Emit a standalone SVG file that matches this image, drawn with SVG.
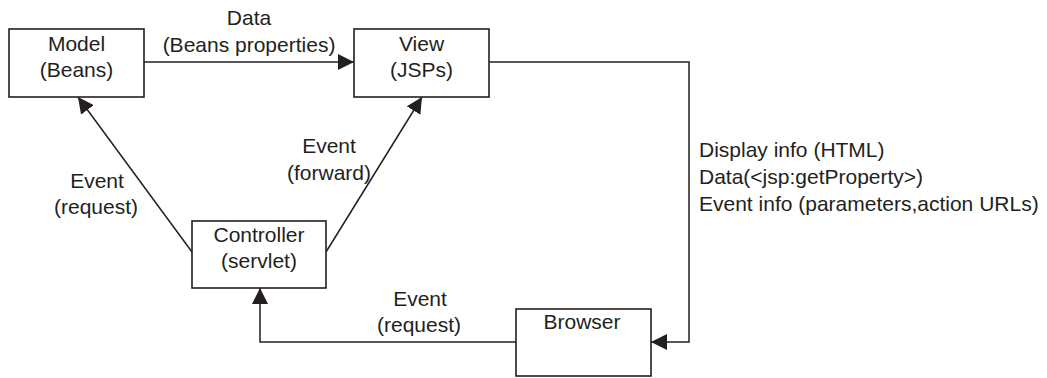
<svg xmlns="http://www.w3.org/2000/svg" width="1047" height="378" viewBox="0 0 1047 378">
  <style>
    .box { fill: #ffffff; stroke: #231f20; stroke-width: 1.6; }
    .wire { fill: none; stroke: #231f20; stroke-width: 1.5; }
    text { font-family: "Liberation Sans", Arial, Helvetica, sans-serif; font-size: 21px; fill: #231f20; }
    .c { text-anchor: middle; }
  </style>
  <defs>
    <marker id="arrow" markerUnits="userSpaceOnUse" markerWidth="16" markerHeight="16" refX="16" refY="8" orient="auto">
      <path d="M0,0 L16,8 L0,16 Z" fill="#231f20"/>
    </marker>
  </defs>

  <rect width="1047" height="378" fill="#ffffff"/>

  <!-- connectors -->
  <g id="connectors">
    <path class="wire" d="M144,62 H354" marker-end="url(#arrow)"/>
    <path class="wire" d="M489,62 H689 V342 H651" marker-end="url(#arrow)"/>
    <path class="wire" d="M516,342 H260 V288" marker-end="url(#arrow)"/>
    <path class="wire" d="M192,252 L78,97" marker-end="url(#arrow)"/>
    <path class="wire" d="M326,252 L422,97" marker-end="url(#arrow)"/>

    <text class="c" x="249" y="25">Data</text>
    <text class="c" x="249" y="52">(Beans properties)</text>

    <text class="c" x="97" y="188">Event</text>
    <text class="c" x="96" y="214">(request)</text>

    <text class="c" x="329" y="153">Event</text>
    <text class="c" x="329" y="180">(forward)</text>

    <text class="c" x="420" y="306">Event</text>
    <text class="c" x="419" y="332">(request)</text>

    <text x="699" y="157">Display info (HTML)</text>
    <text x="699" y="184">Data(&lt;jsp:getProperty&gt;)</text>
    <text x="699" y="211">Event info (parameters,action URLs)</text>
  </g>

  <!-- nodes -->
  <g id="model">
    <rect class="box" x="9" y="29" width="135" height="68"/>
    <text class="c" x="76.5" y="51">Model</text>
    <text class="c" x="76.5" y="77">(Beans)</text>
  </g>
  <g id="view">
    <rect class="box" x="354" y="29" width="135" height="68"/>
    <text class="c" x="421.5" y="51">View</text>
    <text class="c" x="421.5" y="77">(JSPs)</text>
  </g>
  <g id="controller">
    <rect class="box" x="192" y="221" width="134" height="67"/>
    <text class="c" x="259" y="242">Controller</text>
    <text class="c" x="259" y="268">(servlet)</text>
  </g>
  <g id="browser">
    <rect class="box" x="516" y="309" width="135" height="67"/>
    <text class="c" x="582" y="329">Browser</text>
  </g>
</svg>
